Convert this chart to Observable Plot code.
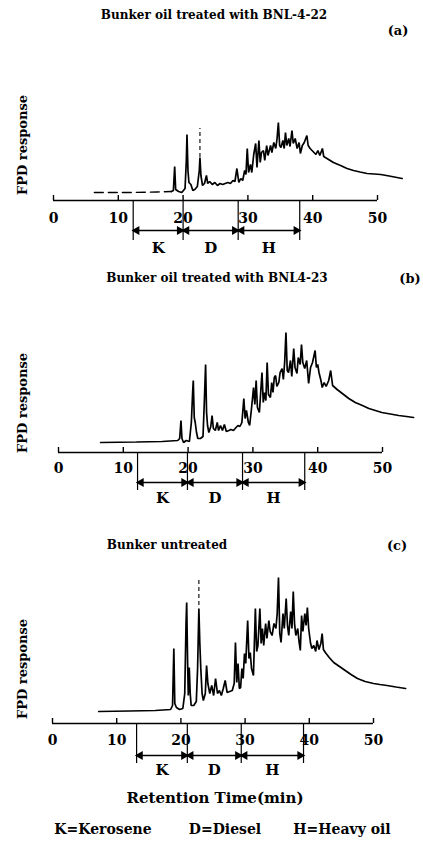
<!DOCTYPE html>
<html><head><meta charset="utf-8">
<script src="https://cdn.jsdelivr.net/npm/d3@7"></script>
<script src="https://cdn.jsdelivr.net/npm/@observablehq/plot@0.6"></script>
<style>
body{margin:0;background:#fff;}
#root{position:relative;width:423px;height:843px;overflow:hidden;font-family:"DejaVu Serif",serif;font-weight:bold;color:#000;}
.abs{position:absolute;white-space:nowrap;transform:translate(-50%,-50%);line-height:1;}
.plot{position:absolute;left:0;}
</style></head><body><div id="root"></div>
<script>
// ---- data ----
const tickValues = [0, 10, 20, 30, 40, 50];
const rangeNames = ["K", "D", "H"];
const legendItems = ["K=Kerosene", "D=Diesel", "H=Heavy oil"];
const panelTitles = ["Bunker oil treated with BNL-4-22", "Bunker oil treated with BNL4-23", "Bunker untreated"];
const panelTags = ["(a)", "(b)", "(c)"];
const yLabel = "FPD response";
const xLabel = "Retention Time(min)";

// fraction boundaries (min) per panel
const boundsA = [12.3, 20.0, 28.5, 38.0];
const boundsB = [12.2, 19.9, 28.4, 38.0];
const boundsC = [13.1, 21.0, 29.4, 39.1];

// leading (faint, broken) baseline of panel (a): [time, response]
const leadA = [[6.3,8],[12,8],[16,8.5],[18.2,9]];
// chromatogram traces: [retention time (min), FPD response]
const traceA = [[18.2,9],[18.5,10],[18.7,34],[18.85,11],[19.3,9],[19.8,8],[20.3,12],[20.5,40],[20.6,66],[20.75,30],[20.9,18],[21.2,16],[21.5,10],[21.8,11],[22.2,14],[22.5,30],[22.6,43],[22.75,25],[23.0,15],[23.3,17],[23.6,25],[23.8,17],[24.1,19],[24.5,16],[24.9,18],[25.3,15],[25.7,17],[26.1,16],[26.5,17],[26.9,18],[27.3,17],[27.7,20],[28.0,19],[28.3,32],[28.6,18],[28.9,22],[29.2,20],[29.5,30],[29.7,26],[29.9,52],[30.1,28],[30.4,36],[30.6,28],[30.9,46],[31.2,57],[31.4,33],[31.7,60],[31.9,38],[32.1,48],[32.4,50],[32.6,40],[32.9,55],[33.1,45],[33.5,55],[33.7,48],[34.0,58],[34.3,52],[34.5,62],[34.7,78],[34.9,55],[35.1,53],[35.4,60],[35.6,52],[35.8,68],[36.0,55],[36.3,62],[36.5,54],[36.8,70],[37.0,57],[37.3,62],[37.6,52],[37.9,58],[38.1,47],[38.4,55],[38.7,58],[39.1,65],[39.3,55],[39.6,52],[39.9,50],[40.2,48],[40.5,46],[40.8,50],[41.1,45],[41.5,52],[41.7,44],[42.2,42],[43.2,38],[44.3,35],[45.3,32],[46.3,30],[47.3,28.5],[48.4,27],[49.5,26.5],[50.5,26],[51.8,24.5],[53.0,23],[53.8,22]];
const traceB = [[6.5,10],[12,10.5],[16,11],[18.4,12],[18.7,14],[18.9,32],[19.05,14],[19.3,10],[19.7,12],[20.2,11],[20.5,30],[20.7,60],[20.8,72],[20.95,35],[21.1,30],[21.3,20],[21.5,14],[21.9,14],[22.3,16],[22.5,50],[22.7,88],[22.85,40],[23.0,27],[23.2,20],[23.5,26],[23.7,37],[23.9,24],[24.2,22],[24.5,30],[24.7,22],[25.0,27],[25.3,22],[25.6,28],[25.9,21],[26.3,22],[26.6,23],[27.0,22],[27.4,25],[27.7,27],[28.0,26],[28.3,30],[28.6,54],[28.8,34],[29.0,42],[29.3,30],[29.5,27],[29.8,45],[30.1,65],[30.3,48],[30.5,72],[30.7,45],[31.0,40],[31.2,60],[31.4,80],[31.6,50],[31.8,60],[32.0,52],[32.2,90],[32.4,58],[32.7,55],[32.9,70],[33.1,60],[33.3,75],[33.5,77],[33.7,66],[34.0,70],[34.2,80],[34.5,84],[34.7,73],[34.9,90],[35.1,120],[35.3,82],[35.5,80],[35.8,92],[36.0,76],[36.3,104],[36.5,85],[36.8,79],[37.0,95],[37.3,88],[37.5,108],[37.7,90],[38.0,84],[38.3,92],[38.6,69],[38.9,85],[39.2,90],[39.6,102],[39.8,85],[40.0,88],[40.2,80],[40.5,72],[40.7,65],[41.0,70],[41.3,66],[41.7,72],[42.0,82],[42.3,67],[43.0,63],[43.8,59],[44.8,54],[45.8,50],[46.9,47],[47.9,44],[48.9,42],[49.9,40],[51.2,38.5],[52.5,37],[53.7,36],[54.8,35]];
const traceC = [[7.2,12],[12,12.5],[16,13],[18.4,14],[18.7,18],[18.9,75],[19.05,20],[19.3,16],[19.8,14],[20.3,15],[20.6,30],[20.8,100],[20.9,121],[21.05,60],[21.15,28],[21.3,56],[21.45,30],[21.6,18],[22.0,18],[22.4,22],[22.6,55],[22.8,115],[22.95,80],[23.1,55],[23.3,30],[23.5,23],[23.8,30],[24.0,58],[24.2,40],[24.5,30],[24.8,38],[25.1,28],[25.4,45],[25.7,30],[26.0,33],[26.3,28],[26.6,35],[26.9,43],[27.2,31],[27.6,32],[28.0,33],[28.3,40],[28.5,81],[28.7,41],[28.9,60],[29.1,35],[29.3,36],[29.5,55],[29.7,45],[29.9,70],[30.1,60],[30.4,103],[30.6,65],[30.8,71],[31.0,55],[31.3,48],[31.6,115],[31.8,72],[32.0,78],[32.3,115],[32.5,80],[32.7,95],[32.9,78],[33.2,100],[33.4,85],[33.7,103],[33.9,92],[34.2,88],[34.5,100],[34.8,95],[35.0,110],[35.2,146],[35.4,90],[35.6,81],[35.9,110],[36.1,95],[36.4,125],[36.6,98],[36.8,88],[37.1,112],[37.3,95],[37.5,132],[37.7,100],[37.9,88],[38.2,95],[38.4,82],[38.6,73],[38.8,108],[39.0,92],[39.3,110],[39.5,98],[39.7,116],[39.9,95],[40.2,80],[40.4,75],[40.7,78],[41.0,72],[41.2,83],[41.5,74],[41.8,80],[42.0,90],[42.2,74],[42.5,71],[43.1,66],[43.8,61],[44.7,57],[45.6,53],[46.5,49],[47.5,45],[48.7,42],[50.0,40],[51.0,39],[52.1,38],[53.5,36.5],[55.0,35]];
// off-scale (faint, broken) peak tops: [time, from, to]
const overA = [[22.6,43,72]];
const overC = [[22.8,118,146]];

// ---- drawing ----
const root = document.getElementById("root");
function addText(txt, x, y, size, extra) {
  const d = document.createElement("div");
  d.className = "abs";
  d.textContent = txt;
  d.style.left = x + "px"; d.style.top = y + "px"; d.style.fontSize = size + "px";
  if (extra) Object.assign(d.style, extra);
  root.appendChild(d);
}

const FONT = "DejaVu Serif";
function panel(cfg) {
  const axisLocal = cfg.axisY - cfg.top;
  const trace = cfg.trace.map(([t, r]) => ({t, r}));
  const lead = (cfg.lead || []).map(([t, r]) => ({t, r}));
  const over = (cfg.over || []).map(([t, a, b]) => ({t, a, b}));
  const segs = rangeNames.map((n, i) => ({name: n, a: cfg.bounds[i], b: cfg.bounds[i + 1]}));
  const p = Plot.plot({
    width: 423, height: cfg.height,
    style: {background: "transparent", overflow: "visible"},
    x: {type: "linear", domain: [0, 50], range: [cfg.x0, cfg.x50], axis: null},
    y: {type: "linear", domain: [0, 100], range: [axisLocal, axisLocal - 100], axis: null},
    marks: [
      Plot.ruleY([0], {x1: 0, x2: 50, stroke: "#000", strokeWidth: 1.4}),
      Plot.ruleX(tickValues, {x: d => d, y1: 0, y2: 5, stroke: "#000", strokeWidth: 1.4}),
      Plot.text(tickValues, {x: d => d, y: 0, dy: cfg.tickDy, text: d => String(d), fontSize: 14, fontWeight: "bold", fontFamily: FONT, fill: "#000"}),
      Plot.ruleX(cfg.bounds, {x: d => d, y1: 0, y2: -cfg.bracketLen, stroke: "#000", strokeWidth: 1.2}),
      Plot.link(segs, {x1: "a", x2: "b", y1: -cfg.arrowDy, y2: -cfg.arrowDy, stroke: "#000", strokeWidth: 1.4}),
      Plot.dot(segs, {x: "a", y: -cfg.arrowDy, symbol: "triangle", r: 3.4, fill: "#000", stroke: "none", rotate: -90, dx: 3.5}),
      Plot.dot(segs, {x: "b", y: -cfg.arrowDy, symbol: "triangle", r: 3.4, fill: "#000", stroke: "none", rotate: 90, dx: -3.5}),
      Plot.text(segs, {x: d => (d.a + d.b) / 2, y: -cfg.labelDy, text: "name", fontSize: 15, fontWeight: "bold", fontFamily: FONT, fill: "#000"}),
      Plot.line(lead, {x: "t", y: "r", stroke: "#000", strokeWidth: 1.3, strokeDasharray: "9,5"}),
      Plot.line(trace, {x: "t", y: "r", stroke: "#000", strokeWidth: 1.7, strokeLinejoin: "miter"}),
      Plot.ruleX(over, {x: "t", y1: "a", y2: "b", stroke: "#000", strokeWidth: 1.1, strokeDasharray: "4,3"})
    ]
  });
  p.classList.add("plot");
  p.style.top = cfg.top + "px";
  root.appendChild(p);
}

panel({top: 25, height: 240, axisY: 200, x0: 53, x50: 377, trace: traceA, lead: leadA, over: overA, bounds: boundsA, tickDy: 18, bracketLen: 40, arrowDy: 30, labelDy: 48});
panel({top: 290, height: 240, axisY: 452, x0: 58, x50: 382, trace: traceB, bounds: boundsB, tickDy: 16, bracketLen: 38, arrowDy: 30, labelDy: 46});
panel({top: 555, height: 225, axisY: 723, x0: 52, x50: 373, trace: traceC, over: overC, bounds: boundsC, tickDy: 17, bracketLen: 40, arrowDy: 32, labelDy: 47});

// titles / tags / axis labels
addText(panelTitles[0], 214, 15, 12);
addText(panelTags[0], 398, 30, 13);
addText(panelTitles[1], 217, 278, 12);
addText(panelTags[1], 410, 278, 13);
addText(panelTitles[2], 167, 545, 12);
addText(panelTags[2], 397, 545, 13);
[145, 403, 669].forEach(y => addText(yLabel, 22, y, 13, {transform: "translate(-50%,-50%) rotate(-90deg)"}));
addText(xLabel, 215, 798, 15);
addText(legendItems[0], 103, 829, 14);
addText(legendItems[1], 225, 829, 14);
addText(legendItems[2], 342, 829, 14);
</script></body></html>
